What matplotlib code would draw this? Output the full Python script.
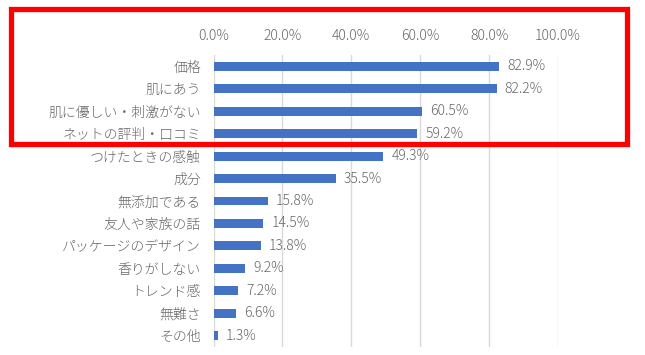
import matplotlib.pyplot as plt
import matplotlib.patches as mpatches

plt.rcParams['font.family'] = ['Noto Sans CJK JP', 'DejaVu Sans']

# data
categories = ['価格', '肌にあう', '肌に優しい・刺激がない', 'ネットの評判・口コミ',
              'つけたときの感触', '成分', '無添加である', '友人や家族の話',
              'パッケージのデザイン', '香りがしない', 'トレンド感', '無難さ', 'その他']
values = [82.9, 82.2, 60.5, 59.2, 49.3, 35.5, 15.8, 14.5, 13.8, 9.2, 7.2, 6.6, 1.3]
xticks = [0, 20, 40, 60, 80, 100]

text_color = '#666666'

fig = plt.figure(figsize=(6.45, 3.55), dpi=100)
ax = fig.add_axes([213.5 / 645, 1 - 347 / 355, (558 - 213.5) / 645, (347 - 55) / 355])

y = list(range(len(categories)))
ax.barh(y, values, height=0.4, color='#4472C4', zorder=3)

for yi, v in zip(y, values):
    ax.text(v + 2.3, yi, f'{v:.1f}%', va='center', ha='left',
            fontsize=10, color=text_color, fontweight='light')

ax.set_xlim(0, 100)
ax.set_ylim(len(categories) - 0.5, -0.5)
ax.set_xticks(xticks)
ax.set_xticklabels([f'{t:.1f}%' for t in xticks], fontweight='light')
ax.set_yticks(y)
ax.set_yticklabels(categories, fontweight='light')
ax.xaxis.tick_top()
ax.tick_params(axis='x', length=0, pad=9, labelsize=10, labelcolor=text_color)
ax.tick_params(axis='y', length=0, pad=9, labelsize=10, labelcolor=text_color)
ax.grid(axis='x', color='#D9D9D9', linewidth=1, zorder=0)
for s in ax.spines.values():
    s.set_visible(False)

# red highlight box
fig.patches.append(mpatches.Rectangle((10.5 / 645, 1 - 143.5 / 355), (626.5 - 10.5) / 645,
                                      (143.5 - 9.5) / 355, transform=fig.transFigure,
                                      fill=False, edgecolor='#FF0000', linewidth=3.8, zorder=10))

fig.savefig('out.png', dpi=100)
